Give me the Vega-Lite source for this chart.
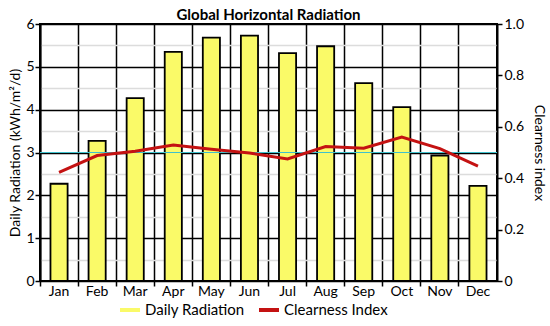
{
  "$schema": "https://vega.github.io/schema/vega-lite/v6.json",
  "autosize": "none",
  "width": 457,
  "height": 257,
  "padding": {"left": 40, "top": 24, "right": 53, "bottom": 45},
  "background": "white",
  "title": {"text": "Global Horizontal Radiation", "font": "Lato", "fontSize": 15, "fontWeight": "bold", "color": "black", "offset": 3, "dy": 9, "anchor": "middle"},
  "config": {
    "font": "Lato",
    "view": {"stroke": "black", "strokeWidth": 2},
    "axis": {"labelFont": "Lato", "titleFont": "Lato", "labelFontSize": 14, "titleFontSize": 14, "titleFontWeight": "normal", "labelColor": "black", "titleColor": "black", "domainColor": "black", "tickColor": "black", "domainWidth": 2, "tickWidth": 1.5}
  },
  "data": {"values": [
    {"month": "Jan", "radiation": 2.27, "clearness": 0.423},
    {"month": "Feb", "radiation": 3.27, "clearness": 0.488},
    {"month": "Mar", "radiation": 4.27, "clearness": 0.505},
    {"month": "Apr", "radiation": 5.35, "clearness": 0.529},
    {"month": "May", "radiation": 5.68, "clearness": 0.513},
    {"month": "Jun", "radiation": 5.73, "clearness": 0.498},
    {"month": "Jul", "radiation": 5.32, "clearness": 0.475},
    {"month": "Aug", "radiation": 5.48, "clearness": 0.523},
    {"month": "Sep", "radiation": 4.62, "clearness": 0.517},
    {"month": "Oct", "radiation": 4.06, "clearness": 0.560},
    {"month": "Nov", "radiation": 2.93, "clearness": 0.515},
    {"month": "Dec", "radiation": 2.22, "clearness": 0.447}
  ]},
  "layer": [
    {
      "mark": {"type": "bar", "width": {"band": 0.45}, "stroke": "black", "strokeWidth": 1.8},
      "encoding": {
        "x": {"field": "month", "type": "nominal", "sort": null, "scale": {"paddingInner": 0, "paddingOuter": 0},
              "axis": {"title": null, "labelAngle": 0, "grid": false, "ticks": false, "domain": false, "labelPadding": 3, "orient": "bottom"}},
        "y": {"field": "radiation", "type": "quantitative", "scale": {"domain": [0, 6]},
              "axis": {"title": "Daily Radiation (kWh/m²/d)", "values": [0, 0.5, 1, 1.5, 2, 2.5, 3, 3.5, 4, 4.5, 5, 5.5, 6],
                       "labelExpr": "datum.value % 1 === 0 ? format(datum.value, 'd') : ''",
                       "grid": true,
                       "gridColor": {"condition": {"test": "datum.value % 1 !== 0", "value": "#dcdcdc"}, "value": "black"},
                       "gridWidth": 1.5,
                       "tickOpacity": {"condition": {"test": "datum.value % 1 !== 0", "value": 0}, "value": 1},
                       "tickSize": 5, "labelPadding": 1, "titlePadding": 3}},
        "color": {"datum": "Daily Radiation", "type": "nominal",
                  "scale": {"domain": ["Daily Radiation", "Clearness Index"], "range": ["#fafa68", "#c41212"]},
                  "legend": {"title": null, "orient": "none", "legendX": 78, "legendY": 274, "direction": "horizontal", "symbolType": "stroke", "symbolSize": 400, "symbolStrokeWidth": 4, "labelFontSize": 15, "labelFont": "Lato", "labelColor": "black", "columnPadding": 6, "labelOffset": 3,
                             "encode": {"symbols": {"update": {"stroke": {"signal": "datum.value === 'Daily Radiation' ? '#f6f2a0' : '#b01414'"}, "strokeWidth": {"value": 4}}}}}}
      }
    },
    {
      "mark": {"type": "rule", "color": "#40c0cc", "strokeWidth": 1, "opacity": 0.8},
      "encoding": {
        "y": {"datum": 3, "type": "quantitative", "scale": {"domain": [0, 6]}, "axis": null}
      }
    },
    {
      "mark": {"type": "line", "strokeWidth": 3},
      "encoding": {
        "x": {"field": "month", "type": "nominal", "sort": null,
              "axis": {"title": null, "orient": "bottom", "bandPosition": 0, "grid": true, "gridColor": "black", "gridWidth": 1.5, "labels": false, "ticks": true, "tickSize": 5, "domain": false}},
        "y": {"field": "clearness", "type": "quantitative", "scale": {"domain": [0, 1]},
              "axis": {"title": "Clearness index", "orient": "right", "values": [0, 0.2, 0.4, 0.6, 0.8, 1], "labelExpr": "datum.value === 0 ? '0' : format(datum.value, '.1f')", "grid": false, "tickSize": 5, "labelPadding": 2, "titlePadding": 8}},
        "color": {"datum": "Clearness Index", "type": "nominal"}
      }
    }
  ],
  "resolve": {"scale": {"y": "independent"}, "axis": {"x": "independent"}}
}
